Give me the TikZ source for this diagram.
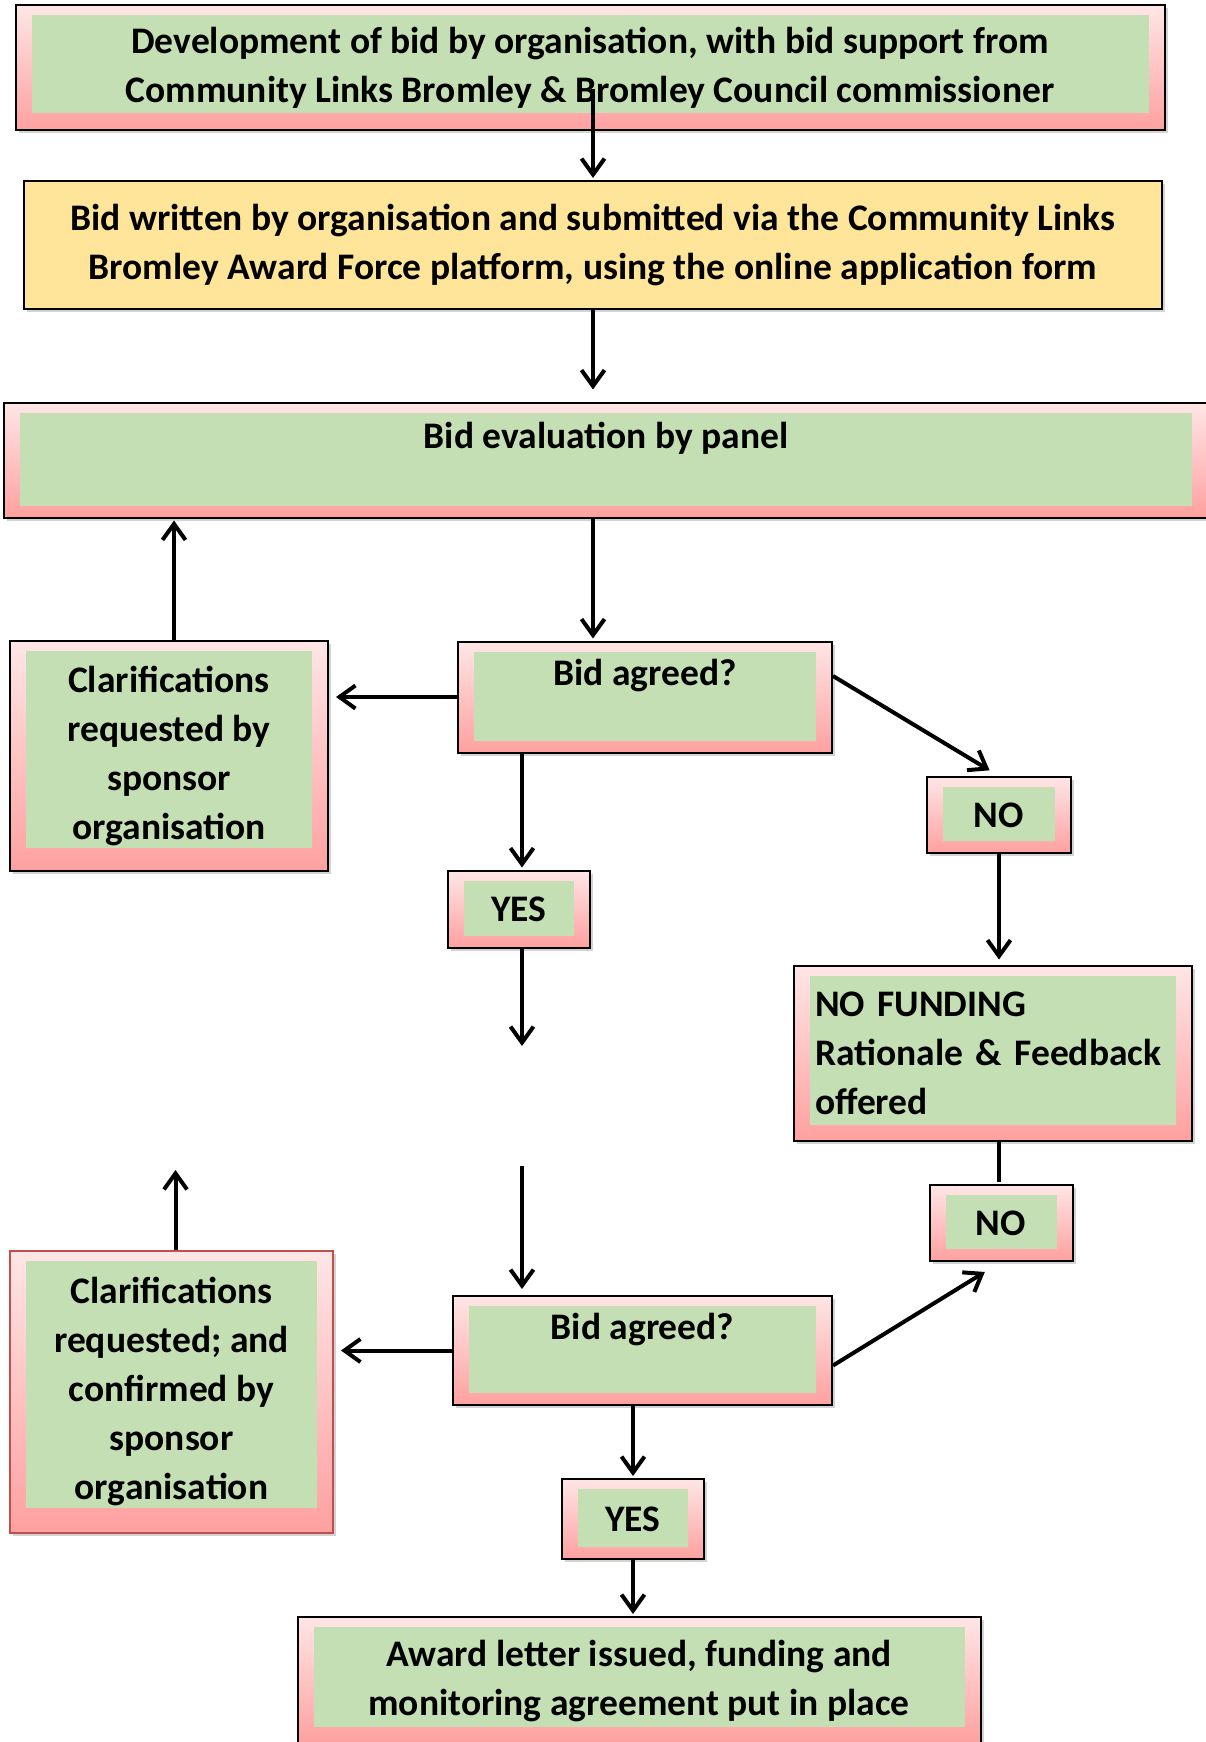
\documentclass[tikz,border=0pt]{standalone}
\usepackage{fontspec}
\setmainfont{Carlito}
\usetikzlibrary{arrows.meta,shadows}

\definecolor{pinktop}{RGB}{255,230,230}
\definecolor{pinkbot}{RGB}{255,160,160}
\definecolor{leaf}{RGB}{196,223,179}
\definecolor{butter}{RGB}{255,229,153}
\definecolor{brick}{RGB}{192,80,77}

\begin{document}
\begin{tikzpicture}[
            x = 1pt, y = -1pt, % one unit per pixel, y going down
            > = {Straight Barb[length=16pt,width=23pt]}, % arrow head style
            shorten > = 2pt, % don't touch arrow head to node
            link/.style = {->, draw = black, line width = 4pt},
            every node/.style = {font=\bfseries\fontsize{37.5}{49}\selectfont, align=center},
            shadowed/.style = {drop shadow={shadow xshift=3pt, shadow yshift=-3pt, opacity=0.35}},
            gbox/.style = {
                draw = black,
                line width = 2pt,
                top color = pinktop,
                bottom color = pinkbot,
                shadowed,
                path picture = {\fill[leaf]
                    ([shift={(16pt,-10pt)}]path picture bounding box.north west) rectangle
                    ([shift={(-16pt,#1)}]path picture bounding box.south east);}
            },
            gbox/.default = 12pt,
            ybox/.style = {draw = black, line width = 2pt, fill = butter, shadowed},
        ]

  \useasboundingbox (0,0) rectangle (1205,1742);

  \node[gbox=17pt, minimum width=1149pt, minimum height=125pt] (n1) at (590,68)
    {Development of bid by organisation, with bid support from\\Community Links Bromley \& Bromley Council commissioner};
  \node[ybox, minimum width=1138pt, minimum height=128pt] (n2) at (593,245)
    {Bid written by organisation and submitted via the Community Links\\Bromley Award Force platform, using the online application form};
  \node[gbox, minimum width=1204pt, minimum height=115pt] (n3) at (606,460) {Bid evaluation by panel\\\mbox{}};

  \node[gbox, minimum width=374pt, minimum height=111pt] (n4) at (645,697) {Bid agreed?\\\mbox{}};
  \node[gbox=23pt, minimum width=318pt, minimum height=230pt] (n5) at (169,756)
    {Clarifications\\requested by\\sponsor\\organisation};
  \node[gbox, minimum width=144pt, minimum height=76pt] (n6) at (999,815) {NO};
  \node[gbox, minimum width=142pt, minimum height=77pt] (n7) at (519,909) {YES};
  \node[gbox=16pt, minimum width=398pt, minimum height=175pt, align=left, text width=356pt] (n8) at (993,1053)
    {NO FUNDING\\Rationale \& Feedback\\offered};
  \node[gbox, minimum width=143pt, minimum height=76pt] (n9) at (1001,1223) {NO};

  \node[gbox, minimum width=379pt, minimum height=109pt] (n10) at (642.5,1350.5) {Bid agreed?\\\mbox{}};
  \node[gbox=25pt, draw=brick, minimum width=323pt, minimum height=282pt] (n11) at (171.5,1391.5)
    {Clarifications\\requested; and\\confirmed by\\sponsor\\organisation};
  \node[gbox, minimum width=142pt, minimum height=80pt] (n12) at (633,1519) {YES};
  \node[gbox=17pt, minimum width=683pt, minimum height=127pt] (n13) at (639,1680.5)
    {Award letter issued, funding and\\monitoring agreement put in place};

  \coordinate (c1) at (522,1048);
  \coordinate (c2) at (522,1166);
  \coordinate (c3) at (175.5,1168);

  \draw[link] (n2.north |- n1.center) ++(0,21) -- (n2.north);
  \draw[link, shorten >=12pt] (n2.south) -- (n2.south |- n3.north);
  \draw[link] (n3.south -| n2.south) -- (n4.north -| n2.south);
  \draw[link, shorten >=7pt] (n4.west) -- (n5.east |- n4.west);
  \draw[link] ([xshift=5pt]n5.north) -- ([xshift=5pt]n5.north |- n3.south);
  \draw[link, shorten >=11pt] ([yshift=21pt]n4.east) -- (n6.north);
  \draw[link] (n4.south -| c1) -- (n7.north -| c1);
  \draw[link, shorten >=5pt] (n6.south) -- (n6.south |- n8.north);
  \draw[line width=4pt] (n6.south |- n8.south) -- (n6.south |- n9.north);
  \draw[link] (c1 |- n7.south) -- (c1);
  \draw[link, shorten >=6pt] (c2) -- (c2 |- n10.north);
  \draw[link] (c3 |- n11.north) -- (c3);
  \draw[link, shorten >=7pt] (n10.west) -- (n11.east |- n10.west);
  \draw[link, shorten >=19pt] ([yshift=-15pt]n10.east) -- (n9.south);
  \draw[link] (n10.south -| n12.north) -- (n12.north);
  \draw[link] (n12.south) -- (n12.south |- n13.north);

\end{tikzpicture}
\end{document}
